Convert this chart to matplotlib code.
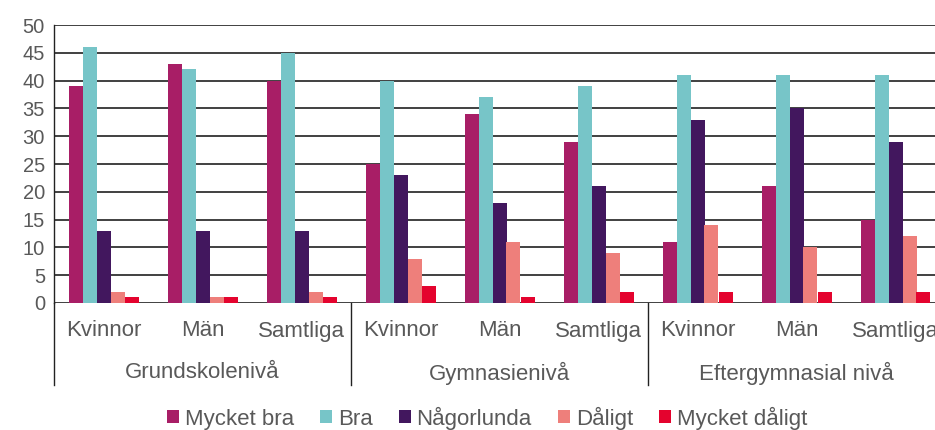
import matplotlib
matplotlib.use("Agg")
import matplotlib.pyplot as plt
import numpy as np

plt.rcParams['font.family'] = ['Liberation Sans', 'DejaVu Sans']

groups = ["Grundskolenivå", "Gymnasienivå", "Eftergymnasial nivå"]
subcats = ["Kvinnor", "Män", "Samtliga"]
series = ["Mycket bra", "Bra", "Någorlunda", "Dåligt", "Mycket dåligt"]
colors = ["#A81E66", "#77C5C8", "#42175E", "#EE7F7B", "#E4032E"]

mycket_bra = [39, 43, 40, 25, 34, 29, 11, 21, 15]
bra = [46, 42, 45, 40, 37, 39, 41, 41, 41]
nagorlunda = [13, 13, 13, 23, 18, 21, 33, 35, 29]
daligt = [2, 1, 2, 8, 11, 9, 14, 10, 12]
mycket_daligt = [1, 1, 1, 3, 1, 2, 2, 2, 2]
values = [mycket_bra, bra, nagorlunda, daligt, mycket_daligt]

yticks = list(range(0, 51, 5))
txt = "#595959"

fig = plt.figure(figsize=(9.35, 4.3), dpi=100)
ax = fig.add_axes([54/935, (430-303)/430, (945-54)/935, (303-25)/430])

n = len(mycket_bra)
x = np.arange(n)
w = 14/99
for i, (s, vals, c) in enumerate(zip(series, values, colors)):
    ax.bar(x + (i - 2) * w, vals, width=w, color=c, label=s, zorder=3)

ax.set_xlim(-0.5, n - 0.5)
ax.set_ylim(0, 50)
ax.set_yticks(yticks)
ax.set_yticklabels([str(t) for t in yticks], fontsize=14.5, color=txt)
ax.tick_params(axis='y', length=0, pad=6.5)
ax.set_xticks([])
for t in yticks:
    ax.axhline(t, color="#404040", lw=1.4, zorder=1)
for sp in ["top", "right", "bottom"]:
    ax.spines[sp].set_visible(False)
ax.spines["left"].set_color("#222222")
ax.spines["left"].set_linewidth(1.0)

# category labels
for i in range(n):
    ax.text(x[i], (303-331)/278, subcats[i % 3], transform=ax.get_xaxis_transform(),
            ha="center", va="center", fontsize=16, color=txt)
for g, name in enumerate(groups):
    ax.text(3*g + 1, (303-373)/278, name, transform=ax.get_xaxis_transform(),
            ha="center", va="center", fontsize=16, color=txt)
for b in [-0.5, 2.5, 5.5]:
    ax.plot([b, b], [0, (303-385)/278], transform=ax.get_xaxis_transform(),
            color="#222222", lw=1.0, clip_on=False)

leg = fig.legend(loc="center", bbox_to_anchor=(487/935, 12/430), ncol=5,
                 frameon=False, fontsize=16, handlelength=0.54, handleheight=0.54,
                 handletextpad=0.27, columnspacing=1.17, borderaxespad=0, borderpad=0)
for t in leg.get_texts():
    t.set_color(txt)

fig.savefig("out.png", dpi=100)
